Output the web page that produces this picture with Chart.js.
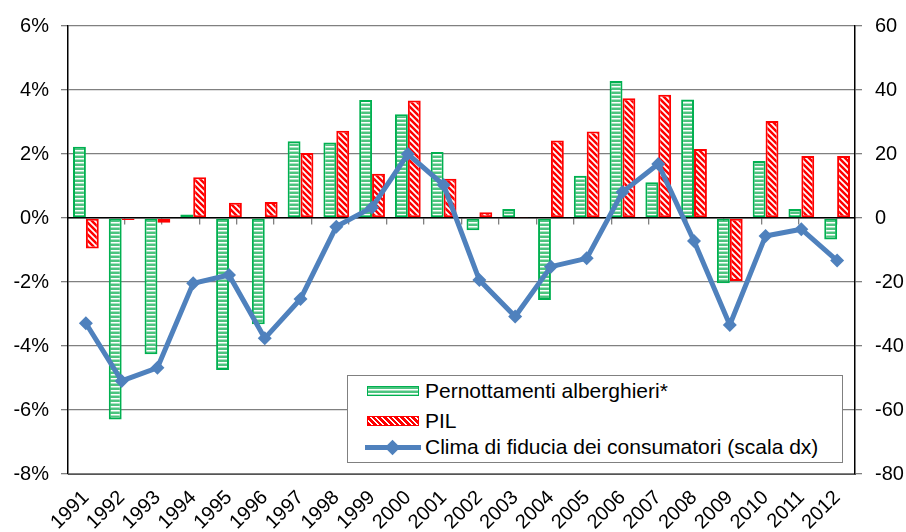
<!DOCTYPE html>
<html>
<head>
<meta charset="utf-8">
<script src="https://cdn.jsdelivr.net/npm/chart.js@4"></script>
<style>
  html, body { margin: 0; padding: 0; background: #fff; }
  #wrap { position: relative; width: 906px; height: 532px; font-family: "Liberation Sans", Arial, sans-serif; }
  #legend { position: absolute; left: 347px; top: 375px; width: 496px; height: 88px; border: 1px solid #808080; background: #fff; box-sizing: border-box; }
  .item { position: absolute; left: 0; height: 28px; line-height: 28px; font-size: 21px; color: #000; white-space: nowrap; }
  .item span.txt { position: absolute; left: 77px; top: 0; }
  .sw { position: absolute; left: 19px; width: 52px; height: 10px; top: 9px; box-sizing: border-box; }
  .sw.green { border: 1.5px solid #00b050; background: repeating-linear-gradient(to bottom, #4cc47f 0 2px, #ffffff 2px 3px, #a9e3c0 3px 4px); }
  .sw.red { border: 1.5px solid #ff0000; background: repeating-linear-gradient(45deg, #ff0000 0 2.6px, #ffffff 2.6px 4px); }
  .sw.line { border: none; height: 5px; top: 12px; background: #4f81bd; left: 17px; width: 56px; }
  .sw.line i { position: absolute; left: 22px; top: -3px; width: 11px; height: 11px; background: #4f81bd; transform: rotate(45deg); }
</style>
</head>
<body>
<div id="wrap">
  <canvas id="c" width="906" height="532"></canvas>
  <div id="legend">
    <div class="item" style="top:1px"><div class="sw green"></div><span class="txt">Pernottamenti alberghieri*</span></div>
    <div class="item" style="top:31px"><div class="sw red"></div><span class="txt">PIL</span></div>
    <div class="item" style="top:57px"><div class="sw line"><i></i></div><span class="txt">Clima di fiducia dei consumatori (scala dx)</span></div>
  </div>
</div>
<script>
// ---- data ----
const years = ["1991","1992","1993","1994","1995","1996","1997","1998","1999","2000","2001","2002","2003","2004","2005","2006","2007","2008","2009","2010","2011","2012"];
const pernottamenti = [2.23, -6.30, -4.26, 0.11, -4.75, -3.32, 2.40, 2.36, 3.69, 3.24, 2.06, -0.38, 0.28, -2.56, 1.32, 4.28, 1.12, 3.70, -2.04, 1.78, 0.28, -0.67];
const pil = [-0.95, -0.06, -0.15, 1.27, 0.48, 0.50, 2.03, 2.73, 1.38, 3.67, 1.23, 0.18, 0.03, 2.42, 2.70, 3.74, 3.85, 2.16, -1.97, 3.03, 1.94, 1.94];
const clima = [-32.9, -50.9, -46.8, -20.4, -17.8, -37.6, -25.3, -2.7, 3.3, 20.0, 10.3, -19.4, -30.8, -15.2, -12.6, 8.1, 16.9, -7.2, -33.4, -5.6, -3.5, -13.3];
const leftTicks = [-8, -6, -4, -2, 0, 2, 4, 6];
const rightTicks = [-80, -60, -40, -20, 0, 20, 40, 60];

// ---- patterns ----
function greenPattern() {
  const c = document.createElement('canvas'); c.width = 4; c.height = 4;
  const g = c.getContext('2d');
  g.fillStyle = '#4cc47f'; g.fillRect(0, 0, 4, 2);
  g.fillStyle = '#ffffff'; g.fillRect(0, 2, 4, 1);
  g.fillStyle = '#a9e3c0'; g.fillRect(0, 3, 4, 1);
  return g.createPattern(c, 'repeat');
}
function redPattern() {
  const s = 6;
  const c = document.createElement('canvas'); c.width = s; c.height = s;
  const g = c.getContext('2d');
  g.fillStyle = '#ff0000'; g.fillRect(0, 0, s, s);
  g.strokeStyle = '#ffffff'; g.lineWidth = 1.7;
  g.beginPath();
  for (let k = -1; k <= 1; k++) { g.moveTo(k * s - 1, -1); g.lineTo(k * s + s + 1, s + 1); }
  g.stroke();
  return g.createPattern(c, 'repeat');
}

const FONT = { family: '"Liberation Sans", Arial, sans-serif', size: 20 };

new Chart(document.getElementById('c'), {
  data: {
    labels: years,
    datasets: [
      { type: 'line', label: 'Clima di fiducia dei consumatori (scala dx)', data: clima, yAxisID: 'y1', xAxisID: 'x',
        borderColor: '#4f81bd', backgroundColor: '#4f81bd', borderWidth: 5, tension: 0,
        pointStyle: 'rectRot', pointRadius: 7, pointBorderWidth: 0, order: 0 },
      { type: 'bar', label: 'Pernottamenti alberghieri*', data: pernottamenti, yAxisID: 'y', xAxisID: 'x',
        backgroundColor: greenPattern(), borderColor: '#00b050', borderWidth: 2, borderSkipped: false,
        categoryPercentage: 0.72, barPercentage: 1.0, order: 1 },
      { type: 'bar', label: 'PIL', data: pil, yAxisID: 'y', xAxisID: 'x',
        backgroundColor: redPattern(), borderColor: '#ff0000', borderWidth: 2, borderSkipped: false,
        categoryPercentage: 0.72, barPercentage: 1.0, order: 1 }
    ]
  },
  options: {
    responsive: false,
    animation: false,
    layout: { padding: { top: 26, left: 0, right: 0, bottom: 0 } },
    plugins: { legend: { display: false }, tooltip: { enabled: false } },
    scales: {
      x: {
        type: 'category', position: 'bottom',
        grid: { display: false },
        border: { display: true, color: '#555555', width: 1 },
        ticks: { color: '#000', font: FONT, minRotation: 45, maxRotation: 45, autoSkip: false, padding: 4 },
        afterFit: s => { s.height = 58; }
      },
      x2: {
        type: 'category', position: { y: 0 }, labels: years,
        grid: { display: true, offset: true, drawOnChartArea: false, drawTicks: true, tickLength: 6, color: '#808080', lineWidth: 1.3 },
        border: { display: true, color: '#000000', width: 1.5 },
        ticks: { display: false }
      },
      y: {
        type: 'linear', position: 'left', min: -8, max: 6,
        afterBuildTicks: s => { s.ticks = leftTicks.map(v => ({ value: v })); },
        grid: { color: '#808080', lineWidth: 1.3, tickLength: 7, drawTicks: true },
        border: { display: true, color: '#000000', width: 1.5 },
        ticks: { color: '#000', font: FONT, padding: 12, callback: v => v + '%' },
        afterFit: s => { s.width = 68; }
      },
      y1: {
        type: 'linear', position: 'right', min: -80, max: 60,
        afterBuildTicks: s => { s.ticks = rightTicks.map(v => ({ value: v })); },
        grid: { drawOnChartArea: false, color: '#808080', lineWidth: 1.3, tickLength: 7, drawTicks: true },
        border: { display: true, color: '#000000', width: 1.5 },
        ticks: { color: '#000', font: FONT, padding: 13 },
        afterFit: s => { s.width = 51; }
      }
    }
  }
});
</script>
</body>
</html>
